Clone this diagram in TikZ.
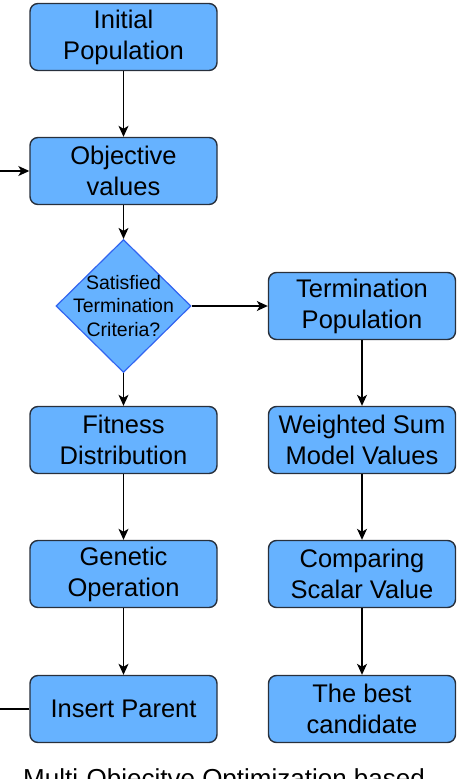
\documentclass[tikz,border=0pt]{standalone}
\usepackage{fontspec}
\setmainfont{Liberation Sans}
\usetikzlibrary{arrows.meta,shapes.geometric}
\definecolor{boxfill}{RGB}{102,178,255}
\definecolor{boxdraw}{RGB}{40,48,60}
\definecolor{diadraw}{RGB}{50,100,240}
\tikzset{
  procbox/.style={draw=boxdraw, line width=1.4pt, fill=boxfill, rounded corners=8pt,
    minimum width=187pt, minimum height=67pt, inner sep=0pt, align=center,
    font=\fontsize{25.5}{31}\selectfont},
  decbox/.style={draw=diadraw, line width=1.2pt, fill=boxfill, diamond, aspect=1.015,
    minimum width=135pt, minimum height=133pt, inner sep=0pt},
  dectext/.style={inner sep=0pt, align=center, text=black,
    font=\fontsize{19.5}{23.5}\selectfont},
  arr/.style={draw=black, line width=1.2pt, -{Stealth[length=11pt,width=10pt,inset=3pt]}},
  capt/.style={anchor=base, inner sep=0pt, font=\fontsize{26}{31}\selectfont}
}
\begin{document}
\begin{tikzpicture}[x=1pt,y=-1pt]
\useasboundingbox (0,0) rectangle (461,779);
\node[procbox] (ip) at (123.5,37) {Initial\\Population};
\node[procbox] (ov) at (123.5,171) {Objective\\values};
\node[decbox] (st) at (123.5,306) {};
\node[dectext] (stt) at (st.center) {Satisfied\\Termination\\Criteria?};
\node[procbox] (tp) at (362,306) {Termination\\Population};
\node[procbox] (fd) at (123.5,440) {Fitness\\Distribution};
\node[procbox] (ws) at (362,440) {Weighted Sum\\Model Values};
\node[procbox] (go) at (123.5,574) {Genetic\\Operation};
\node[procbox] (cs) at (362,574) {Comparing\\Scalar Value};
\node[procbox] (pa) at (123.5,709) {Insert Parent};
\node[procbox] (bc) at (362,709) {The best\\candidate};
\node[capt] (cap) at (224,787) {Multi-Objecitve Optimization based};
\coordinate (lb) at (-0.8,709);
\draw[arr] (ip) -- (ov);
\draw[arr] (ov) -- (st);
\draw[arr] (st) -- (tp);
\draw[arr] (st) -- (fd);
\draw[arr] (fd) -- (go);
\draw[arr] (go) -- (pa);
\draw[arr] (tp) -- (ws);
\draw[arr] (ws) -- (cs);
\draw[arr] (cs) -- (bc);
\draw[arr] (pa.west) -- (lb) |- (ov.west);
\end{tikzpicture}
\end{document}
